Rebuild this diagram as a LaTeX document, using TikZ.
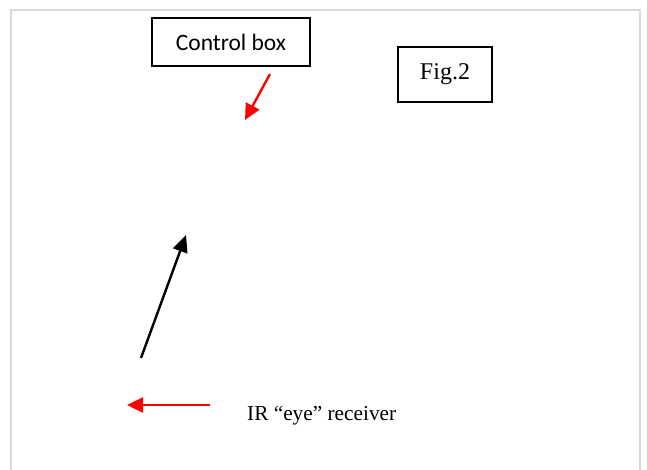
\documentclass[tikz,border=0pt]{standalone}
\usepackage{fontspec}
\setmainfont{Liberation Serif}
\newfontfamily\carlitofont{Carlito}
\usetikzlibrary{arrows.meta}
\definecolor{framegray}{RGB}{218,218,218}
\tikzset{
  boxnode/.style={draw=black, line width=1.3pt, inner sep=0pt, fill=white},
  redarrow/.style={draw=red, line width=2.4pt, -{Triangle[length=16pt,width=15pt]}},
  blackarrow/.style={draw=black, line width=2.4pt, -{Triangle[length=17pt,width=15pt]}},
}
\begin{document}
\begin{tikzpicture}[x=1pt,y=-1pt]
\useasboundingbox (0,0) rectangle (647,470);
\fill[white] (0,0) rectangle (647,470);
% page frame
\draw[framegray, line width=2pt] (11,472) -- (11,10) -- (640,10) -- (640,472);
% boxes
\node[boxnode, minimum width=158pt, minimum height=48pt, font=\carlitofont\fontsize{23.5}{28}\selectfont] (ctrl) at (231,42) {Control box};
\node[boxnode, minimum width=94pt, minimum height=55pt, font=\fontsize{24}{28}\selectfont] (fig) at (445,74.5) {Fig.2};
\node[anchor=west, inner sep=0pt, font=\fontsize{21.3}{25}\selectfont] (ir) at (247,416) {IR “eye” receiver};
% arrows
\coordinate (r1s) at (270,74);
\coordinate (r1e) at (245,120);
\draw[redarrow] (r1s) -- (r1e);
\coordinate (bs) at (141,358);
\coordinate (be) at (186,235);
\draw[blackarrow] (bs) -- (be);
\coordinate (r2s) at (210,405);
\coordinate (r2e) at (127,405);
\draw[redarrow] (r2s) -- (r2e);
\end{tikzpicture}
\end{document}
